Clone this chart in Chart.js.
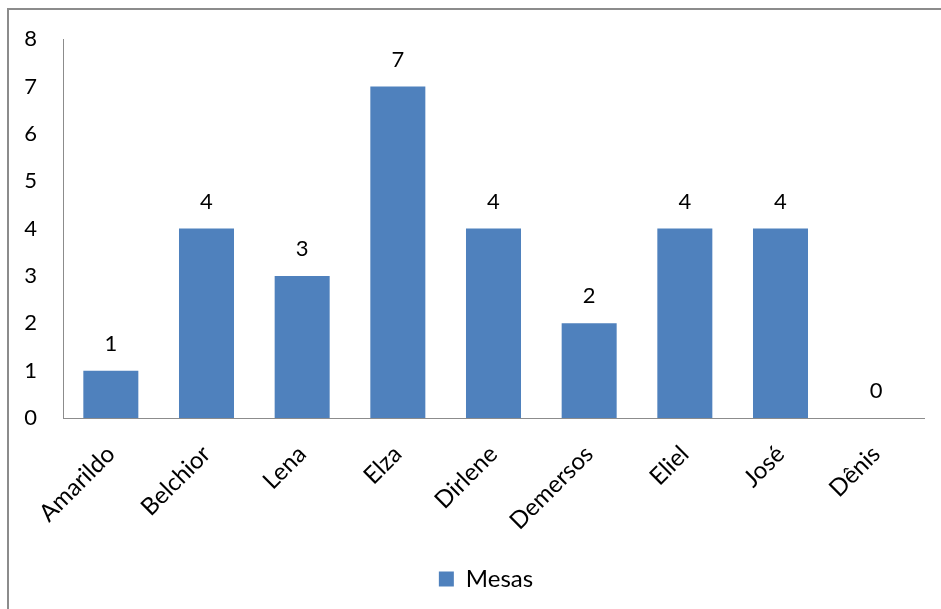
<!DOCTYPE html>
<html>
<head>
<meta charset="utf-8">
<script src="https://cdn.jsdelivr.net/npm/chart.js@4"></script>
<style>
  html, body { margin: 0; padding: 0; background: #fff; }
  #wrap { width: 941px; height: 609px; position: relative; }
</style>
</head>
<body>
<div id="wrap"><canvas id="c" width="941" height="609"></canvas></div>
<script>
const categories = ['Amarildo', 'Belchior', 'Lena', 'Elza', 'Dirlene', 'Demersos', 'Eliel', 'José', 'Dênis'];
const mesas = [1, 4, 3, 7, 4, 2, 4, 4, 0];
const seriesName = 'Mesas';

const FONT = "Lato, 'Open Sans', 'Liberation Sans', sans-serif";
const NUM_SIZE = 22;
const TEXT_SIZE = 24;

// outer frame of the chart object
const framePlugin = {
  id: 'frame',
  beforeDraw(chart) {
    const ctx = chart.ctx;
    ctx.save();
    ctx.strokeStyle = '#8c8c8c';
    ctx.lineWidth = 2;
    ctx.strokeRect(8, 9, chart.width + 20, chart.height + 20);
    ctx.restore();
  }
};

// legend sits centred under the plot area rather than the whole canvas
const legendShift = {
  id: 'legendShift',
  afterLayout(chart) {
    const lg = chart.legend;
    if (!lg) return;
    const dx = 24;
    lg.left += dx;
    lg.right += dx;
    if (lg.legendHitBoxes) lg.legendHitBoxes.forEach(b => { b.left += dx; });
  }
};

// value labels above every bar
const valueLabels = {
  id: 'valueLabels',
  afterDatasetsDraw(chart) {
    const ctx = chart.ctx;
    const meta = chart.getDatasetMeta(0);
    ctx.save();
    ctx.font = NUM_SIZE + 'px ' + FONT;
    ctx.fillStyle = '#000';
    ctx.textAlign = 'center';
    ctx.textBaseline = 'middle';
    meta.data.forEach((bar, i) => {
      ctx.fillText(String(mesas[i]), bar.x, bar.y - 27);
    });
    ctx.restore();
  }
};

new Chart(document.getElementById('c'), {
  type: 'bar',
  data: {
    labels: categories,
    datasets: [{
      label: seriesName,
      data: mesas,
      backgroundColor: '#4F81BD',
      borderWidth: 0,
      categoryPercentage: 0.575,
      barPercentage: 1
    }]
  },
  options: {
    responsive: false,
    animation: false,
    layout: { padding: { left: 0, top: 38, right: 17, bottom: 8 } },
    plugins: {
      legend: {
        position: 'bottom',
        labels: {
          font: { size: TEXT_SIZE, family: FONT },
          color: '#000',
          boxWidth: 15,
          boxHeight: 15,
          padding: 10
        }
      },
      tooltip: { enabled: false }
    },
    scales: {
      y: {
        min: 0,
        max: 8,
        afterFit(scale) { scale.width = 63; },
        ticks: {
          stepSize: 1,
          font: { size: NUM_SIZE, family: FONT },
          color: '#000',
          padding: 26
        },
        grid: { display: false, drawTicks: false },
        border: { display: true, color: '#8c8c8c', width: 1 }
      },
      x: {
        afterFit(scale) { scale.height = 139; },
        ticks: {
          font: { size: TEXT_SIZE, family: FONT },
          color: '#000',
          maxRotation: 45,
          minRotation: 45,
          padding: 22
        },
        grid: { display: false, drawTicks: false },
        border: { display: true, color: '#8c8c8c', width: 1 }
      }
    }
  },
  plugins: [framePlugin, legendShift, valueLabels]
});
</script>
</body>
</html>
